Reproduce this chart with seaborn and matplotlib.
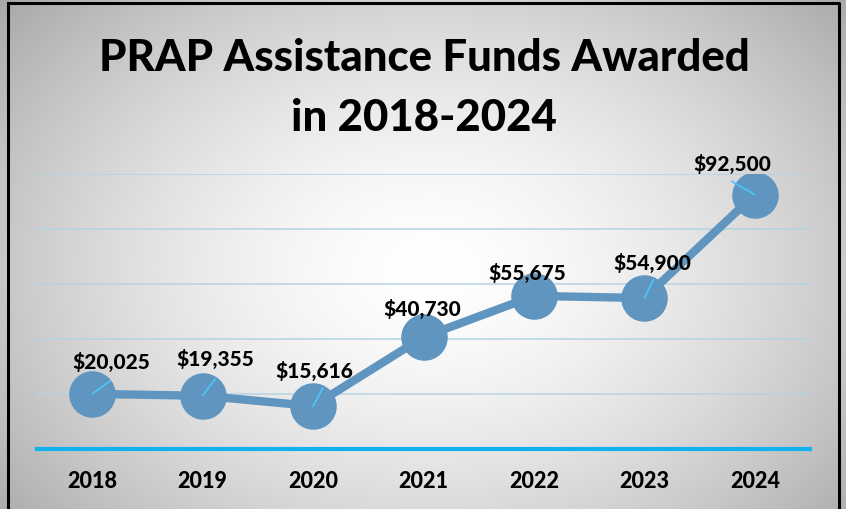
import numpy as np
import pandas as pd
import matplotlib
matplotlib.use("Agg")
import matplotlib.pyplot as plt
import seaborn as sns

years = ["2018", "2019", "2020", "2021", "2022", "2023", "2024"]
funds = [20025, 19355, 15616, 40730, 55675, 54900, 92500]
value_labels = ["$20,025", "$19,355", "$15,616", "$40,730", "$55,675", "$54,900", "$92,500"]
title_text = "PRAP Assistance Funds Awarded\nin 2018-2024"

df = pd.DataFrame({"year": years, "funds": funds})

sns.set_theme(style="white")
plt.rcParams["font.family"] = ["Lato", "DejaVu Sans"]

W, H = 846, 510
fig = plt.figure(figsize=(W / 100, H / 100), dpi=100)

# background radial gradient
bg = fig.add_axes([0, 0, 1, 1], zorder=0)
yy, xx = np.mgrid[0:H, 0:W]
d = np.sqrt(((xx - 430) / 520.0) ** 2 + ((yy - 270) / 380.0) ** 2)
val = 1.0 - 0.30 * np.clip(d, 0, 1.2) ** 1.6
val = np.clip(val, 0, 1)
img = np.dstack([val, val, val])
bg.imshow(img, extent=[0, W, H, 0], aspect="auto", interpolation="bilinear")
bg.plot([8, 839, 839, 8, 8], [4, 4, 512, 512, 4], color="black", lw=2.2, clip_on=False)
bg.set_xlim(0, W)
bg.set_ylim(H, 0)
bg.axis("off")

ax = fig.add_axes([37 / W, (H - 450) / H, 773 / W, 275 / H], zorder=1)
ax.patch.set_alpha(0)

line_color = "#5f95be"
sns.lineplot(data=df, x="year", y="funds", ax=ax, color=line_color, lw=6,
             marker="o", markersize=33.5, markeredgewidth=0, sort=False, zorder=3)

ax.set_ylim(0, 100000)
ax.set_xlim(-0.5, len(years) - 0.5)
ax.set_yticks([20000, 40000, 60000, 80000, 100000])
ax.yaxis.grid(True, color="#b5d3e3", lw=1.1)
ax.xaxis.grid(False)
ax.set_yticklabels([])
ax.tick_params(axis="y", length=0)
ax.tick_params(axis="x", length=0, pad=15)
for lbl in ax.get_xticklabels():
    lbl.set_fontweight(900)
    lbl.set_fontsize(15.5)
    lbl.set_color("black")
ax.set_xlabel("")
ax.set_ylabel("")
for s in ["top", "right", "left"]:
    ax.spines[s].set_visible(False)
ax.spines["bottom"].set_color("#12b2ec")
ax.spines["bottom"].set_linewidth(3)

label_offsets = [(14, 24), (9, 27), (1, 26), (-1, 21), (-5, 17), (6, 26), (-16, 23)]
leader_offsets = [(13, 9.5), (9, 12), (7, 13), None, None, (6.5, 13), (-16.5, 9.5)]
for i, (v, t) in enumerate(zip(funds, value_labels)):
    ox, oy = label_offsets[i]
    ax.annotate(t, (i, v), xytext=(ox, oy), textcoords="offset points",
                ha="center", va="center", fontsize=15, fontweight=900,
                color="black", zorder=5)
    if leader_offsets[i] is not None:
        lx, ly = leader_offsets[i]
        ax.annotate("", xy=(i, v), xytext=(lx, ly), textcoords="offset points",
                    arrowprops=dict(arrowstyle="-", color="#4fc3f7", lw=1.3,
                                    shrinkA=0, shrinkB=0), zorder=4)

fig.text(424 / W, 1 - 88 / H, title_text, ha="center", va="center",
         fontsize=31.5, fontweight=900, color="black", linespacing=1.62)

fig.savefig("out.png", dpi=100)
